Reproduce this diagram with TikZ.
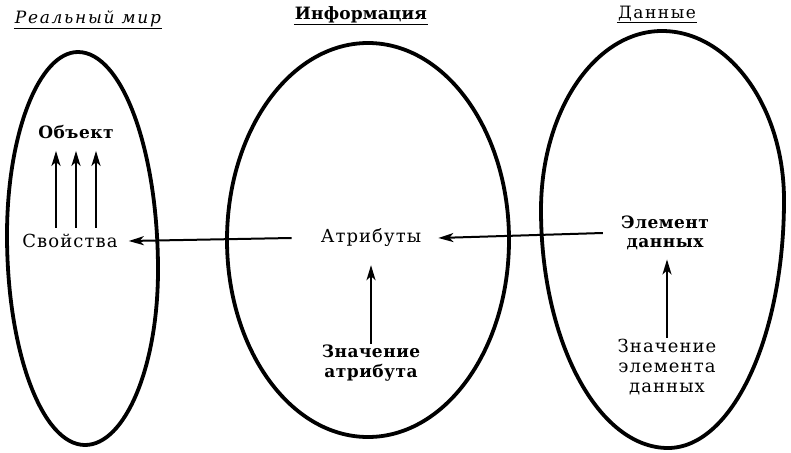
\documentclass[tikz,border=0pt]{standalone}
\usepackage{fontspec}
\setmainfont{DejaVu Serif}
\usetikzlibrary{arrows.meta,calc}
\begin{document}
\begin{tikzpicture}[x=1pt,y=-1pt,
  oval/.style={line width=3.8pt},
  arr/.style={line width=2pt,-{Stealth[length=15pt,width=9pt,inset=4pt]}},
  lbl/.style={font=\fontsize{18}{20}\selectfont\addfontfeature{LetterSpace=6}, inner sep=1pt, align=center},
  blbl/.style={lbl, font=\fontsize{17}{19.5}\selectfont\bfseries\addfontfeature{LetterSpace=3}},
  uline/.style={line width=1.2pt}
]
\useasboundingbox (0,0) rectangle (791,452);
% ovals
\draw[oval] (78,52) .. controls (122,52) and (158,150) .. (158,270)
  .. controls (158,367) and (125,445) .. (85,445)
  .. controls (42,445) and (7,351) .. (7,235)
  .. controls (7,134) and (39,52) .. (78,52) -- cycle;
\draw[oval] (368,240) ellipse [x radius=141, y radius=197];
\draw[oval] (662,31) .. controls (729,31) and (784,107) .. (784,200)
  .. controls (784,337) and (732,448) .. (668,448)
  .. controls (598,448) and (541,341) .. (541,210)
  .. controls (541,111) and (595,31) .. (662,31) -- cycle;
% titles
\node[inner sep=1pt, font=\fontsize{17}{19}\selectfont\itshape\addfontfeature{LetterSpace=10}] (t1) at (88,19) {Реальный мир};
\draw[uline] (t1.south west) -- (t1.south east);
\node[inner sep=1pt, font=\fontsize{17}{19}\selectfont\bfseries\addfontfeature{LetterSpace=1}] (t2) at (361,15) {Информация};
\draw[uline] (t2.south west) -- (t2.south east);
\node[inner sep=1pt, font=\fontsize{17}{19}\selectfont\addfontfeature{LetterSpace=9}] (t3) at (657,14) {Данные};
\draw[uline] (t3.south west) -- (t3.south east);
% labels
\node[blbl] (obj) at (76,132) {Объект};
\node[lbl] (svo) at (70,241) {Свойства};
\node[lbl] (atr) at (371,238) {Атрибуты};
\node[blbl] (elem) at (665,233) {Элемент\\данных};
\node[blbl] (zatr) at (371,363) {Значение\\атрибута};
\node[lbl] (zel) at (667,367) {Значение\\элемента\\данных};
% arrows
\foreach \dx in {-20,0,20}
  \draw[arr] ($(obj.south)+(\dx,88)$) -- ($(obj.south)+(\dx,11)$);
\draw[arr] ([xshift=-28pt]atr.west) -- ([xshift=10pt]svo.east);
\draw[arr] ([xshift=-17pt]elem.west) -- ([xshift=16pt]atr.east);
\draw[arr, shorten >=17pt] (zatr.north) -- (zatr.north |- atr.south);
\draw[arr, shorten >=8pt] (zel.north) -- (zel.north |- elem.south);
\end{tikzpicture}
\end{document}
